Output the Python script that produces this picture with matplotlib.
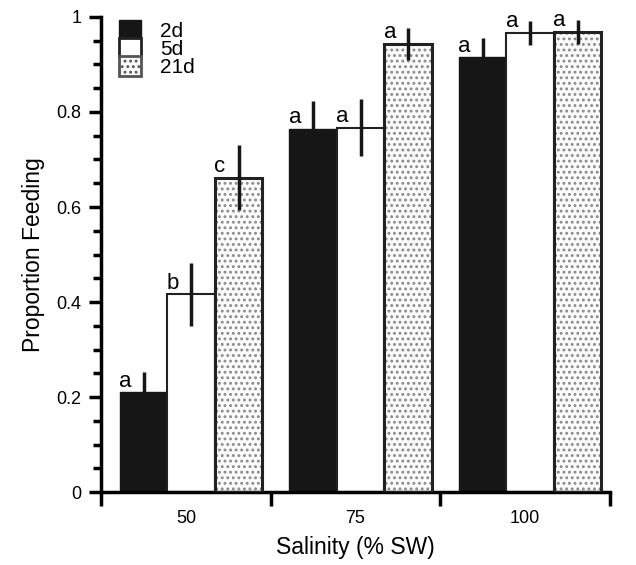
import numpy as np
import matplotlib
matplotlib.use('Agg')
import matplotlib.pyplot as plt
from matplotlib.patches import Patch
from matplotlib.ticker import MultipleLocator

plt.rcParams['font.family'] = ['Liberation Sans', 'DejaVu Sans']
plt.rcParams['hatch.linewidth'] = 1.3

# data
salinity = ['50', '75', '100']
days = ['2d', '5d', '21d']
mean_2d = [0.21, 0.765, 0.915]
mean_5d = [0.416, 0.767, 0.966]
mean_21d = [0.662, 0.943, 0.968]
err_2d = [0.043, 0.058, 0.040]
err_5d = [0.066, 0.060, 0.026]
err_21d = [0.068, 0.033, 0.025]
letters_2d = ['a', 'a', 'a']
letters_5d = ['b', 'a', 'a']
letters_21d = ['c', 'a', 'a']

fig = plt.figure(figsize=(6.36, 5.65), dpi=100)
ax = fig.add_axes([0.159, 0.129, 0.8, 0.841])

x = np.arange(len(salinity))
w = 0.28
shift = 0.03

# 2d: solid black
ax.bar(x - w + shift, mean_2d, w, color='#161616', edgecolor='#161616', linewidth=1, zorder=2)
# 5d: white
ax.bar(x + shift, mean_5d, w, color='white', edgecolor='#222222', linewidth=1.5, zorder=2)
# 21d: dotted
ax.bar(x + w + shift, mean_21d, w, color='#fbfbfb', edgecolor='#8a8a8a', hatch='...', linewidth=0, zorder=2)
ax.bar(x + w + shift, mean_21d, w, fill=False, edgecolor='#222222', linewidth=2.2, zorder=3)

series = [(x - w + shift, mean_2d, err_2d, letters_2d),
          (x + shift, mean_5d, err_5d, letters_5d),
          (x + w + shift, mean_21d, err_21d, letters_21d)]
for xs, m, e, lab in series:
    ax.errorbar(xs, m, yerr=e, fmt='none', ecolor='#161616', elinewidth=2.5, capsize=0, zorder=4)
    for xi, mi, li in zip(xs, m, lab):
        ax.text(xi - w / 2 - 0.005, mi + 0.012, li, ha='left', va='baseline', fontsize=16, zorder=5)

ax.set_xlim(-0.5, 2.5)
ax.set_ylim(0, 1)
ax.set_xticks([-0.5, 0.5, 1.5, 2.5])
ax.set_xticklabels([])
ax.set_xticks(x, minor=True)
ax.set_xticklabels(salinity, minor=True, fontsize=13)
ax.tick_params(axis='x', which='major', direction='out', length=10, width=2.5)
ax.tick_params(axis='x', which='minor', length=0, pad=13)

ax.set_yticks([0, 0.2, 0.4, 0.6, 0.8, 1.0])
ax.set_yticklabels(['0', '0.2', '0.4', '0.6', '0.8', '1'], fontsize=13)
ax.yaxis.set_minor_locator(MultipleLocator(0.05))
ax.tick_params(axis='y', which='major', direction='out', length=9, width=2.5, pad=5)
ax.tick_params(axis='y', which='minor', direction='out', length=6, width=2.5)

for s in ['top', 'right']:
    ax.spines[s].set_visible(False)
for s in ['left', 'bottom']:
    ax.spines[s].set_linewidth(2.5)

ax.set_xlabel('Salinity (% SW)', fontsize=16.5, labelpad=6)
ax.set_ylabel('Proportion Feeding', fontsize=16.5, labelpad=8)

handles = [Patch(facecolor='#161616', edgecolor='#161616'),
           Patch(facecolor='white', edgecolor='#222222', linewidth=2),
           Patch(facecolor='#fbfbfb', edgecolor='#555555', hatch='...', linewidth=2)]
ax.legend(handles, days, loc='upper left', bbox_to_anchor=(0.036, 0.994), frameon=False,
          fontsize=15, handlelength=1.05, handleheight=1.05, handletextpad=0.9,
          labelspacing=-0.12, borderaxespad=0, borderpad=0)

fig.savefig('out.png', dpi=100)
